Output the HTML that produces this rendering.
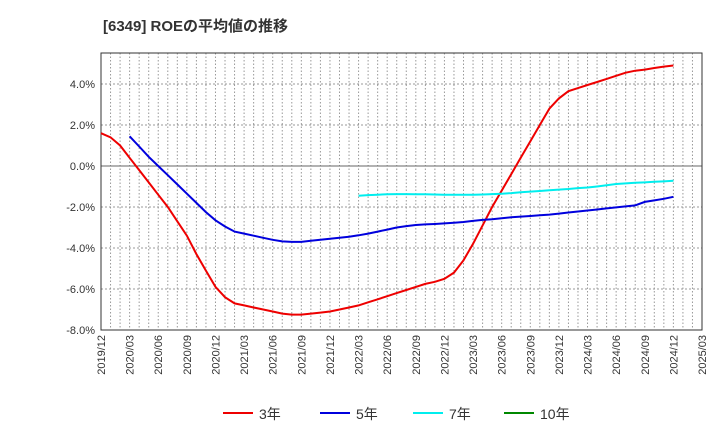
<!DOCTYPE html>
<html><head><meta charset="utf-8"><style>
body{margin:0;background:#fff;font-family:"Liberation Sans","Noto Sans CJK JP",sans-serif}
</style></head><body>
<svg id="c" width="720" height="440" xmlns="http://www.w3.org/2000/svg">
<text x="103" y="31" font-size="15" font-weight="bold" fill="#333" font-family="Liberation Sans, Noto Sans CJK JP, sans-serif">[6349]  ROEの平均値の推移</text>
</svg>
<script>
const yTicks=[4,2,0,-2,-4,-6,-8];
const xLabels=["2019/12","2020/03","2020/06","2020/09","2020/12","2021/03","2021/06","2021/09","2021/12","2022/03","2022/06","2022/09","2022/12","2023/03","2023/06","2023/09","2023/12","2024/03","2024/06","2024/09","2024/12","2025/03"];
const s3=[1.6,1.4,1.0,0.4,-0.2,-0.8,-1.4,-2.0,-2.7,-3.4,-4.3,-5.1,-5.9,-6.4,-6.7,-6.8,-6.9,-7.0,-7.1,-7.2,-7.25,-7.25,-7.2,-7.15,-7.1,-7.0,-6.9,-6.8,-6.65,-6.5,-6.35,-6.2,-6.05,-5.9,-5.75,-5.65,-5.5,-5.2,-4.6,-3.8,-2.9,-2.0,-1.2,-0.4,0.4,1.2,2.0,2.8,3.3,3.65,3.8,3.95,4.1,4.25,4.4,4.55,4.65,4.7,4.78,4.85,4.9];
const s5start=3;
const s5=[1.45,0.95,0.45,0.0,-0.45,-0.9,-1.35,-1.8,-2.25,-2.65,-2.95,-3.2,-3.3,-3.4,-3.5,-3.6,-3.68,-3.7,-3.7,-3.65,-3.6,-3.55,-3.5,-3.45,-3.38,-3.3,-3.2,-3.1,-3.0,-2.93,-2.88,-2.85,-2.83,-2.8,-2.77,-2.73,-2.68,-2.63,-2.6,-2.55,-2.5,-2.47,-2.44,-2.4,-2.37,-2.32,-2.27,-2.22,-2.17,-2.12,-2.07,-2.02,-1.97,-1.92,-1.75,-1.68,-1.6,-1.5];
const s7start=27;
const s7=[-1.45,-1.42,-1.4,-1.38,-1.37,-1.37,-1.38,-1.38,-1.39,-1.4,-1.4,-1.4,-1.4,-1.39,-1.37,-1.35,-1.32,-1.28,-1.25,-1.22,-1.18,-1.15,-1.12,-1.08,-1.05,-1.0,-0.94,-0.88,-0.85,-0.82,-0.8,-0.77,-0.75,-0.72];
const L=101,R=702,T=53,B=330,months=63;
const X=m=>L+(R-L)*m/months;
const Y=v=>166-v*20.5;
const svg=document.getElementById('c');
const NS='http://www.w3.org/2000/svg';
function mk(t,a){const e=document.createElementNS(NS,t);for(const k in a)e.setAttribute(k,a[k]);svg.appendChild(e);return e;}
for(let m=1;m<months;m++){
 const g=mk('line',{x1:X(m),x2:X(m),y1:T,y2:B,stroke:'#999','stroke-dasharray':'1.5,2','stroke-width':1});
 
 
}
yTicks.forEach(v=>{
 const g=mk('line',{x1:L,x2:R,y1:Y(v),y2:Y(v),stroke:v===0?'#666':'#999','stroke-dasharray':v===0?'none':'2,2','stroke-width':1});
 
 
 const t=mk('text',{x:L-6,y:Y(v)+4,'text-anchor':'end','font-size':11,fill:'#333'});
 t.textContent=v.toFixed(1)+'%';
 
 
});
const fr=mk('rect',{x:L,y:T,width:R-L,height:B-T,fill:'none',stroke:'#333','stroke-width':1});


xLabels.forEach((lab,i)=>{
 const x=X(i*3);
 const t=mk('text',{x:0,y:0,'text-anchor':'end','font-size':11,fill:'#333',transform:`translate(${x+4},${B+5}) rotate(-90)`});
 t.textContent=lab;
 
 
});
function line(arr,start,color,name){
 const p=arr.map((v,i)=>X(start+i).toFixed(1)+','+Y(v).toFixed(1)).join(' ');
 const e=mk('polyline',{points:p,fill:'none',stroke:color,'stroke-width':2});
 
 
}
line(s3,0,'#e00','series-3y');
line(s5,s5start,'#00d','series-5y');
line(s7,s7start,'#0ee','series-7y');
const leg=[['3年','#e00',223],['5年','#00d',320],['7年','#0ee',413],['10年','#080',504]];
leg.forEach(([n,c,x])=>{
 const l=mk('line',{x1:x,x2:x+30,y1:413,y2:413,stroke:c,'stroke-width':2});
 
 
 const t=mk('text',{x:x+36,y:419,'font-size':14,fill:'#333'});
 t.textContent=n;
 
 
});
</script>
</body></html>
